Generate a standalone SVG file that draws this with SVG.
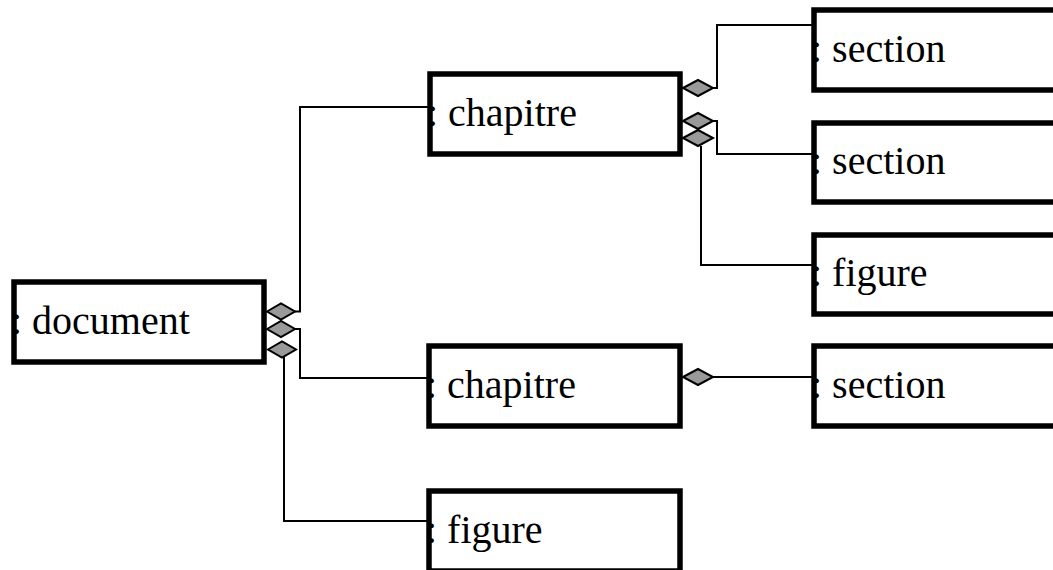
<svg xmlns="http://www.w3.org/2000/svg" width="1053" height="570" viewBox="0 0 1053 570">
<style>
.box{fill:#fff;stroke:#000;stroke-width:5.5}
.lbl{font-family:"Liberation Serif","Times New Roman",serif;font-size:40px;fill:#000}
.ln{fill:none;stroke:#000;stroke-width:2}
.dia{fill:#999;stroke:#000;stroke-width:2;stroke-linejoin:miter}
</style>
<rect width="1053" height="570" fill="#fff"/>
<g id="connectors">
<path class="ln" d="M295 311.5 H300 V107 H432"/>
<path class="ln" d="M295 329 H300 V378 H432"/>
<path class="ln" d="M284 357 V521 H432"/>
<path class="ln" d="M713 88 H717 V25 H816"/>
<path class="ln" d="M713 121 H717 V154 H816"/>
<path class="ln" d="M701 146 V265 H816"/>
<path class="ln" d="M713 377 H816"/>
</g>
<g id="document">
<rect class="box" x="14" y="282" width="250" height="80"/>
<text class="lbl" x="11" y="334">: document</text>
</g>
<g id="chapitre1">
<rect class="box" x="430" y="74" width="250" height="80"/>
<text class="lbl" x="427" y="126">: chapitre</text>
</g>
<g id="chapitre2">
<rect class="box" x="429" y="346" width="251" height="80"/>
<text class="lbl" x="426" y="398">: chapitre</text>
</g>
<g id="figure1">
<rect class="box" x="429" y="491" width="251" height="80"/>
<text class="lbl" x="426" y="543">: figure</text>
</g>
<g id="section1">
<rect class="box" x="814" y="10" width="250" height="80"/>
<text class="lbl" x="811" y="62">: section</text>
</g>
<g id="section2">
<rect class="box" x="814" y="123" width="250" height="79"/>
<text class="lbl" x="811" y="174">: section</text>
</g>
<g id="figure2">
<rect class="box" x="814" y="235" width="250" height="79"/>
<text class="lbl" x="811" y="286">: figure</text>
</g>
<g id="section3">
<rect class="box" x="814" y="346" width="250" height="80"/>
<text class="lbl" x="811" y="398">: section</text>
</g>
<g id="diamonds">
<polygon class="dia" points="267,311.5 281,303.5 295,311.5 281,319.5"/>
<polygon class="dia" points="267,329 281,321 295,329 281,337"/>
<polygon class="dia" points="268,349.5 282,341.5 296,349.5 282,357.5"/>
<polygon class="dia" points="683,88 698,80 713,88 698,96"/>
<polygon class="dia" points="683,121 698,113 713,121 698,129"/>
<polygon class="dia" points="683,138 698,130 713,138 698,146"/>
<polygon class="dia" points="683,377 698,369 713,377 698,385"/>
</g>
</svg>
